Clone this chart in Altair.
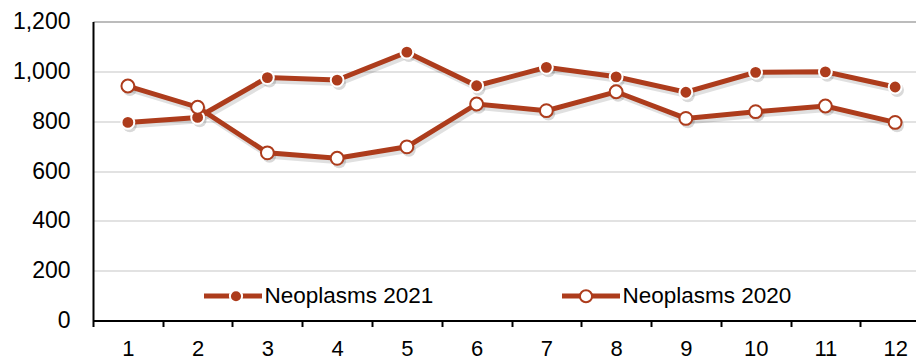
import altair as alt
import pandas as pd

FONT = "Liberation Sans"
RUST = "#AD3C1C"

months = list(range(1, 13))
neo_2021 = [795, 815, 975, 965, 1077, 942, 1016, 978, 916, 996, 998, 937]
neo_2020 = [941, 856, 673, 651, 697, 869, 842, 918, 811, 838, 861, 795]
series_names = ["Neoplasms 2021", "Neoplasms 2020"]
series_years = ["2021", "2020"]
y_ticks = [0, 200, 400, 600, 800, 1000, 1200]
x_edges = [m - 0.5 for m in months]  # category boundaries, where the axis ticks sit

rows = []
for name, yr, vals in zip(series_names, series_years, [neo_2021, neo_2020]):
    for m, v in zip(months, vals):
        rows.append({"month": m, "value": v, "s": name, "s2": yr})
df = pd.DataFrame(rows)

PLOT_W = 823
STEP = 69.75  # pixel width of one month band; the plot is cropped at the right like the original

x_enc = alt.X(
    "month:Q",
    scale=alt.Scale(domain=[0.5, 0.5 + PLOT_W / STEP], nice=False, zero=False),
    axis=alt.Axis(
        title=None, values=x_edges, labelExpr="'' + (datum.value + 0.5)",
        labelOffset=STEP / 2, labelFlush=False, labelOverlap=False,
        labelAngle=0, labelFontSize=22, labelColor="black", labelFont=FONT,
        domainColor="black", domainWidth=2, tickColor="black", tickWidth=2, tickSize=6,
        labelPadding=12, grid=False,
    ),
)
y_enc = alt.Y(
    "value:Q",
    scale=alt.Scale(domain=[0, 1200], nice=False),
    axis=alt.Axis(
        title=None, values=y_ticks, format=",.0f", labelFontSize=23, labelColor="black",
        labelFont=FONT, ticks=False, tickSize=0, labelPadding=23,
        domainColor="black", domainWidth=2,
        gridColor=alt.condition("datum.value == 1200", alt.value("#a6a6a6"), alt.value("#d9d9d9")),
        gridWidth=1.5,
    ),
)

base = alt.Chart(df).encode(x=x_enc, y=y_enc)

legend_a = alt.Legend(
    title=None, orient="none", legendX=108.5, legendY=243, direction="horizontal",
    columns=2, columnPadding=118, symbolType="stroke", symbolSize=3364,
    symbolStrokeWidth=5, labelFontSize=22.5, labelFont=FONT, labelColor="black",
    labelLimit=400, labelOffset=0, padding=0,
)
CIRCLE = "M0.21,0 A0.21,0.21 0 1,1 -0.21,0 A0.21,0.21 0 1,1 0.21,0 Z"
legend_b = alt.Legend(
    title=None, orient="none", legendX=113, legendY=244.5, direction="horizontal",
    columns=2, columnPadding=290, symbolType=CIRCLE, symbolSize=3364,
    symbolStrokeWidth=2, labelFontSize=22.5, labelFont=FONT, labelColor="black",
    labelLimit=400, labelOffset=0, padding=0,
    labelExpr="''",
)

shadow_line = base.mark_line(strokeWidth=6, color="black", opacity=0.12, xOffset=2, yOffset=3).encode(
    detail="s:N"
)
shadow_pts = base.mark_circle(size=190, color="black", opacity=0.15, xOffset=2, yOffset=3)
line = base.mark_line(strokeWidth=5).encode(
    color=alt.Color("s:N", scale=alt.Scale(domain=series_names, range=[RUST, RUST]), legend=legend_a)
)
pts = base.mark_circle(size=165, strokeWidth=2, opacity=1).encode(
    fill=alt.Fill("s2:N", scale=alt.Scale(domain=series_years, range=[RUST, "white"]), legend=legend_b),
    stroke=alt.Stroke("s2:N", scale=alt.Scale(domain=series_years, range=["white", RUST]), legend=legend_b),
)

chart = (
    alt.layer(shadow_line, shadow_pts, line, pts)
    .properties(
        width=PLOT_W, height=299,
        autosize=alt.AutoSizeParams(type="none"),
        padding={"left": 85, "top": 13.5, "right": 0, "bottom": 40},
    )
    .configure(font=FONT)
    .configure_view(strokeWidth=0)
)

chart.save("out.html", embed_options={"renderer": "svg", "actions": False})
